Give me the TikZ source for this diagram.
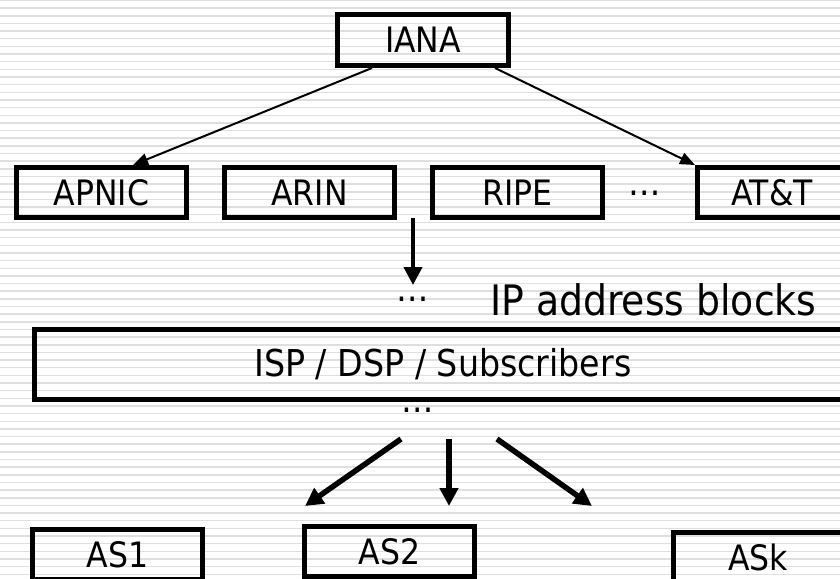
\documentclass[tikz,border=0pt]{standalone}
\usepackage{fontspec}
\setmainfont{DejaVu Sans Condensed}
\usetikzlibrary{positioning}
\usetikzlibrary{arrows.meta}

\begin{document}
\begin{tikzpicture}[x=1pt,y=-1pt,
	box/.style={draw, line width=5pt, minimum width=170pt, minimum height=50pt, inner sep=0pt, font=\fontsize{35}{40}\selectfont},
	thin/.style={line width=2pt, -{Triangle[length=15pt,width=12pt]}},
	fat/.style={line width=5.5pt, -{Triangle[length=18pt,width=18pt]}},
	dots/.style={anchor=base, inner sep=0pt, font=\fontsize{36}{40}\selectfont}]
		\useasboundingbox (0,0) rectangle (840,578);
		\clip (0,0) rectangle (840,578);
		\foreach \i in {0,...,75}
			\draw[gray!25, line width=1.5pt] (0,0.5+7.65*\i) -- (840,0.5+7.65*\i);
		\node (iana) [box, minimum width=171pt, minimum height=51pt] at (423,40) {IANA};
		\node (apnic) [box] at (101.5,192.5) {APNIC};
		\node (arin) [box, right=33pt of apnic] {ARIN};
		\node (ripe) [box, right=33pt of arin] {RIPE};
		\node (att) [box, right=90pt of ripe, minimum width=149pt] {AT\&T};
		\node (dots0) [dots] at (645,195) {…};
		\node (dots1) [dots] at (413,301) {…};
		\node (ipab) [anchor=base west, inner sep=0pt, font=\fontsize{42}{48}\selectfont] at (490,315) {IP address blocks};
		\node (isp) [box, minimum width=817pt, minimum height=70pt, font=\fontsize{37}{42}\selectfont] at (443,364.5) {ISP / DSP / Subscribers};
		\node (dots2) [dots] at (418,412.5) {…};
		\node (as1) [box] at (117.5,554.5) {AS1};
		\node (as2) [box] at (389.5,551.5) {AS2};
		\node (ask) [box] at (758,557.5) {ASk};
		\draw[thin] ([xshift=-51pt]iana.south) -- ([xshift=31.5pt]apnic.north);
		\draw[thin] ([xshift=72pt]iana.south) -- (att.north west);
		\coordinate (gap) at (413,218);
		\coordinate (gapend) at (413,285);
		\draw[fat, line width=4pt] (gap) -- (gapend);
		\foreach \n/\sx/\ex in {1/401/305, 2/449/449, 3/497/592}{
			\coordinate (s\n) at (\sx,439);
			\coordinate (e\n) at (\ex,506);
			\draw[fat] (s\n) -- (e\n);
		}
\end{tikzpicture}
\end{document}
